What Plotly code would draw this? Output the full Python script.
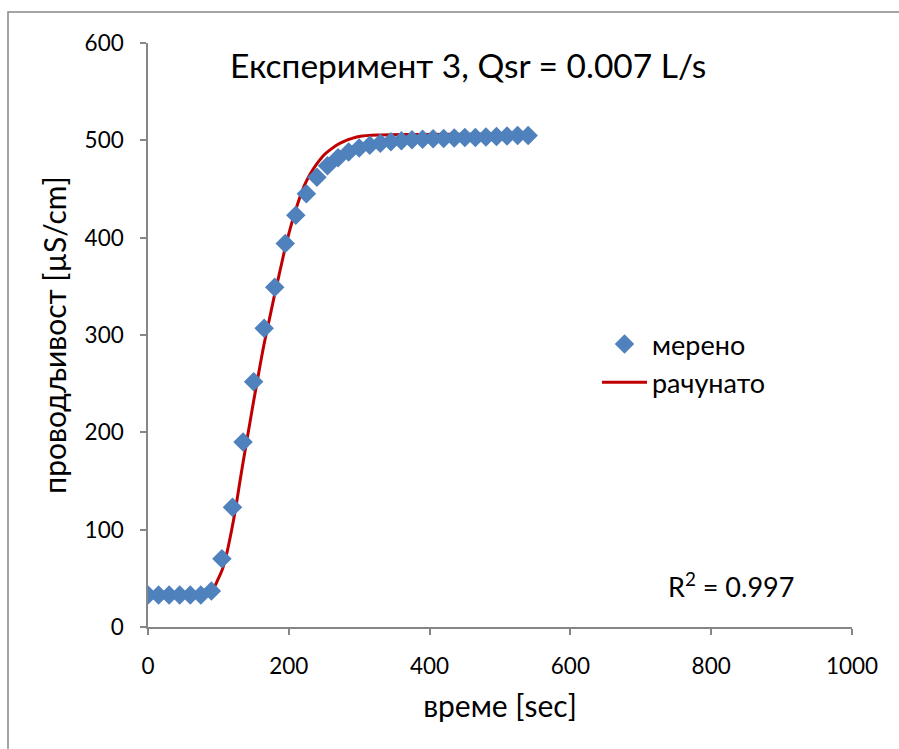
import plotly.graph_objects as go

# measured data (мерено)
t_meas = [0, 15, 30, 45, 60, 75, 90, 105, 120, 135, 150, 165, 180, 195, 210, 225,
          240, 255, 270, 285, 300, 315, 330, 345, 360, 375, 390, 405, 420, 435,
          450, 465, 480, 495, 510, 525, 540]
y_meas = [33, 33, 33, 33, 33, 33, 37, 70, 123, 190, 252, 307, 349, 394, 423, 445,
          462, 474, 482, 488, 492, 495, 497, 498.5, 499.5, 500.5, 501, 501.5, 502, 502.5,
          503, 503, 503.5, 504, 504.5, 505, 505]

# calculated curve (рачунато)
t_calc = [0, 85, 90, 95, 100, 105, 110, 115, 120, 125, 130, 135, 140, 145, 150, 155,
          160, 165, 170, 175, 180, 185, 190, 195, 200, 205, 210, 215, 220, 225, 230,
          240, 250, 260, 270, 280, 290, 300, 330, 380, 540]
y_calc = [33, 33, 35, 42, 50, 58, 70, 86, 104, 124, 147, 169, 190, 211, 232, 252,
          272, 291, 308, 325, 342, 358, 374, 390, 404, 417, 429, 440, 450, 458, 465,
          476, 485, 491, 496, 499.5, 502, 504, 505.5, 506, 506.5]

x_ticks = [0, 200, 400, 600, 800, 1000]
y_ticks = [0, 100, 200, 300, 400, 500, 600]

FONT = "Lato"
GRAY = "#868686"

fig = go.Figure()
fig.add_trace(go.Scatter(
    x=t_calc, y=y_calc, mode="lines", name="рачунато",
    line=dict(color="#C00000", width=3, shape="spline"),
))
fig.add_trace(go.Scatter(
    x=t_meas, y=y_meas, mode="markers", name="мерено",
    marker=dict(symbol="diamond", size=15, color="#4F81BD", line=dict(width=0)),
))

fig.update_layout(
    width=899, height=749,
    margin=dict(l=148, r=47, t=43, b=122),
    paper_bgcolor="white", plot_bgcolor="white",
    font=dict(family=FONT, size=22.5, color="black"),
    showlegend=True,
    legend=dict(x=(597 - 148) / 704, y=(627 - 320) / 584, xanchor="left", yanchor="top",
                font=dict(size=27), traceorder="reversed", itemwidth=45,
                bgcolor="rgba(0,0,0,0)", tracegroupgap=0),
    xaxis=dict(range=[0, 1000], tickvals=x_ticks, showgrid=False, zeroline=False,
               showline=True, linecolor=GRAY, linewidth=1.5,
               ticks="outside", ticklen=6, tickcolor=GRAY, tickwidth=1.5,
               ticklabelstandoff=12,
               title=dict(text="време [sec]", font=dict(size=30), standoff=18)),
    yaxis=dict(range=[0, 600], tickvals=y_ticks, showgrid=False, zeroline=False,
               showline=True, linecolor=GRAY, linewidth=1.5,
               ticks="outside", ticklen=6, tickcolor=GRAY, tickwidth=1.5,
               ticklabelstandoff=12,
               title=dict(text="проводљивост [µS/cm]", font=dict(size=30), standoff=9)),
    shapes=[dict(type="rect", xref="paper", yref="paper",
                 x0=(8 - 148) / 704, x1=2.0, y0=-0.5, y1=1 + (43 - 12) / 584,
                 line=dict(color=GRAY, width=1.5), fillcolor="rgba(0,0,0,0)",
                 layer="below")],
    annotations=[
        dict(text="Експеримент 3, Qsr = 0.007 L/s", xref="paper", yref="paper",
             x=(468 - 148) / 704, y=(627 - 65) / 584, showarrow=False,
             font=dict(size=33.5), xanchor="center", yanchor="middle"),
        dict(text="R<sup>2</sup> = 0.997", xref="paper", yref="paper",
             x=(731 - 148) / 704, y=(627 - 585) / 584, showarrow=False,
             font=dict(size=27), xanchor="center", yanchor="middle"),
    ],
)

fig.write_html("out.html")
